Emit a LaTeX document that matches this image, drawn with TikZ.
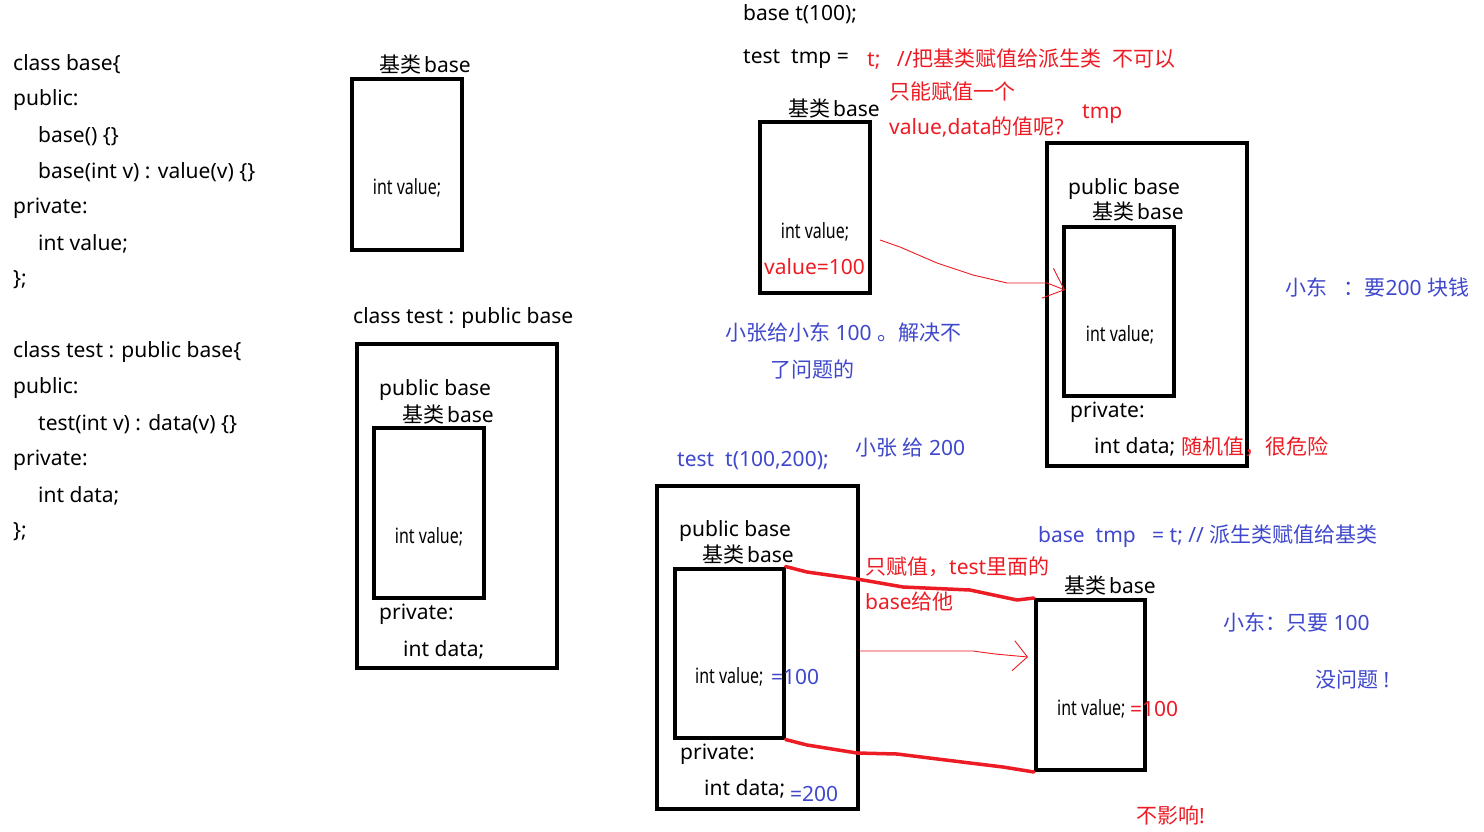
\documentclass[tikz,border=0pt]{standalone}
\usepackage{fontspec}
\setmainfont{Noto Sans}
\newfontfamily\cjk{Noto Sans CJK SC}
\usepackage{graphicx}
\usetikzlibrary{arrows.meta,calc}
\definecolor{pred}{HTML}{ED1C24}
\definecolor{pblue}{HTML}{3F48CC}
\newcommand{\zh}[1]{{\cjk #1}}
\newcommand{\iv}{\scalebox{0.76}[1]{int value;}}
\newcommand{\jl}{\zh{基类}\hspace{3pt}base}
\begin{document}
\begin{tikzpicture}[x=1pt,y=-1pt,
  txt/.style={font=\fontsize{21}{25}\selectfont, inner sep=0, anchor=west, yshift=-2pt},
  ctr/.style={font=\fontsize{21}{25}\selectfont, inner sep=0, yshift=-2pt},
  rtxt/.style={txt, text=pred},
  btxt/.style={txt, text=pblue},
  box/.style={draw, line width=4pt, inner sep=0},
  redline/.style={draw=pred, line width=3.5pt, line join=round, line cap=round},
  redarrow/.style={draw=pred, line width=0.9pt},
]
\useasboundingbox[fill=white] (0,0) rectangle (1484,831);

% ---------- left code ----------
\node[txt] (c1) at (13,62) {class base\{};
\node[txt] (c2) at (13,98) {public:};
\node[txt] (c3) at (38,134) {base() \{\}};
\node[txt] (c4) at (38,170) {base(int v) : value(v) \{\}};
\node[txt] (c5) at (13,206) {private:};
\node[txt] (c6) at (38,242) {int value;};
\node[txt] (c7) at (13,278) {\};};
\node[txt] (d1) at (13,350) {class test : public base\{};
\node[txt] (d2) at (13,386) {public:};
\node[txt] (d3) at (38,422) {test(int v) : data(v) \{\}};
\node[txt] (d4) at (13,458) {private:};
\node[txt] (d5) at (38,494) {int data;};
\node[txt] (d6) at (13,530) {\};};

% ---------- box 1 ----------
\node[ctr] (l1) at (425,63) {\jl};
\node[box, minimum width=110, minimum height=171] (b1) at (407,164.5) {};
\node[ctr] (v1) at (407,186) {\iv};

% ---------- box 2 ----------
\node[txt] (l2) at (353,316) {class test : public base};
\node[box, minimum width=200, minimum height=324] (b2) at (457,506) {};
\node[txt] (p2) at (379,388) {public base};
\node[ctr] (k2) at (448,413) {\jl};
\node[box, minimum width=110, minimum height=170] (b2i) at (429,513) {};
\node[ctr] (v2) at (429,535) {\iv};
\node[txt] (r2) at (379,612) {private:};
\node[txt] (e2) at (403,648) {int data;};

% ---------- top middle ----------
\node[txt] (t1) at (743,12) {base t(100);};
\node[txt] (t2) at (743,57) {test\ \ tmp\ =};
\node[rtxt] (t3) at (867,57) {t;\ \ \ //\zh{把基类赋值给派生类}\ \ \zh{不可以}};
\node[rtxt] (t4) at (889,90) {\zh{只能赋值一个}};
\node[rtxt] (t5) at (889,125) {value,data\zh{的值呢}?};
\node[rtxt] (t6) at (1082,112) {tmp};

% ---------- box 3 ----------
\node[ctr] (l3) at (834,107) {\jl};
\node[box, minimum width=110, minimum height=171] (b3) at (815,207.5) {};
\node[ctr] (v3) at (815,230) {\iv};
\node[rtxt] (w3) at (764,265) {value=100};

% ---------- box 4 ----------
\node[box, minimum width=200, minimum height=323] (b4) at (1147,304.5) {};
\node[txt] (p4) at (1068,187) {public base};
\node[ctr] (k4) at (1138,210) {\jl};
\node[box, minimum width=110, minimum height=169] (b4i) at (1119,311.5) {};
\node[ctr] (v4) at (1120,333) {\iv};
\node[txt] (r4) at (1070,410) {private:};
\node[txt] (e4) at (1094,445) {int data;};
\node[rtxt] (x4) at (1181,445) {\zh{随机值，很危险}};

\node[btxt] (n1) at (1285,285) {\zh{小东}\ \ \ \zh{：要}200 \zh{块钱}};
\node[btxt] (n2) at (725,331) {\zh{小张给小东} 100 \zh{。解决不}};
\node[btxt] (n3) at (770,367) {\zh{了问题的}};
\node[btxt] (n4) at (677,459) {test\ \ t(100,200);};
\node[btxt] (n5) at (855,446) {\zh{小张} \zh{给} 200};

% ---------- box 5 ----------
\node[box, minimum width=201, minimum height=323] (b5) at (757.5,647) {};
\node[txt] (p5) at (679,529) {public base};
\node[ctr] (k5) at (748,553) {\jl};
\node[box, minimum width=109, minimum height=169] (b5i) at (729,653) {};
\node[txt] (v5) at (695,675) {\iv};
\node[btxt] (q5) at (771,675) {=100};
\node[txt] (r5) at (680,752) {private:};
\node[txt] (e5) at (704,787) {int data;};
\node[btxt] (f5) at (790,792) {=200};

\node[rtxt] (m1) at (865,565) {\zh{只赋值，}test\zh{里面的}};
\node[rtxt] (m2) at (865,600) {base\zh{给他}};
\node[btxt] (m3) at (1038,534) {base\ \ tmp\ \ \ =\ t;\ //\ \zh{派生类赋值给基类}};

% ---------- box 6 ----------
\node[ctr] (l6) at (1110,584) {\jl};
\node[box, minimum width=109, minimum height=170] (b6) at (1090.5,685) {};
\node[txt] (v6) at (1057,707) {\iv};
\node[rtxt] (q6) at (1130,707) {=100};

\node[btxt] (s1) at (1223,620) {\zh{小东：只要} 100};
\node[btxt] (s2) at (1315,678) {\zh{没问题} !};
\node[rtxt] (s3) at (1136,813) {\zh{不影响}!};

% ---------- connectors ----------
\coordinate (a1s) at ($(b3.east)+(8,32.5)$);
\coordinate (a1e) at ($(b4i.west)+(3,-21.5)$);
\draw[redarrow, -{Straight Barb[length=18pt,width=32pt]}]
  (a1s) -- (900,247) -- (937,263) -- (973,275) -- (1007,283) -- (1047,283) -- (a1e);

\coordinate (a2s) at ($(b5.east)+(0,4)$);
\coordinate (a2e) at ($(b6.west)+(-6,-28)$);
\draw[redarrow, -{Straight Barb[length=14pt,width=30pt]}]
  (a2s) -- (973,651) -- (995,654) -- (a2e);

\draw[redline] (b5i.north east) -- (807,572) -- (857,579) -- (903,587) -- (970,590) -- (1017,600) -- (b6.north west);
\draw[redline] (b5i.south east) -- (807,745) -- (857,753) -- (897,754) -- (970,763) -- (1003,767) -- (b6.south west);
\end{tikzpicture}
\end{document}
